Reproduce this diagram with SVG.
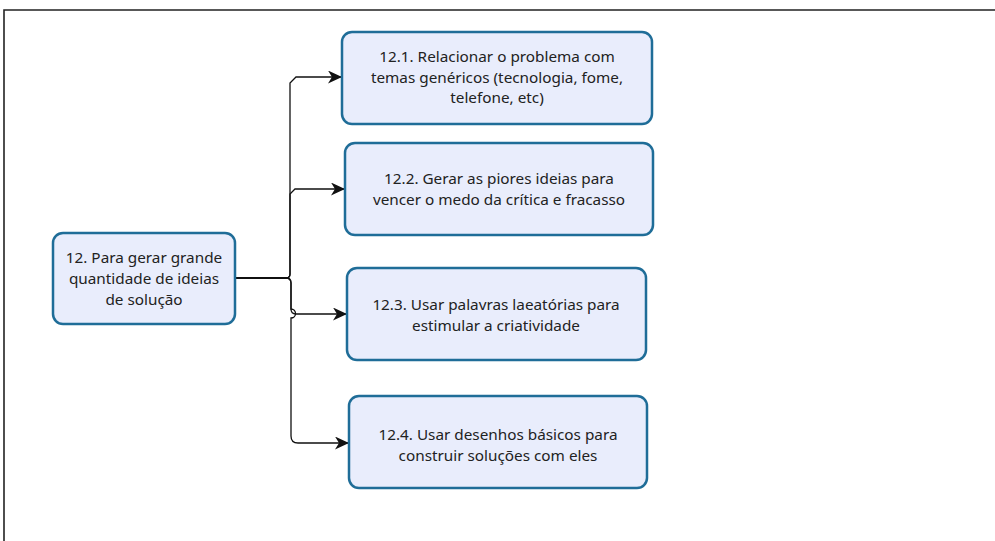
<svg xmlns="http://www.w3.org/2000/svg" width="995" height="541" viewBox="0 0 995 541">
  <style>
    .box { fill: #e9edfc; stroke: #1f6d98; stroke-width: 2.5; }
    .lbl { font-family: "Noto Sans", "Open Sans", "DejaVu Sans", sans-serif; font-size: 15.3px; fill: #222; text-anchor: middle; }
    .wire { fill: none; stroke: #111; stroke-width: 1.3; }
    .frame { fill: none; stroke: #222; stroke-width: 1.6; }
  </style>
  <defs>
    <marker id="arrow" markerUnits="userSpaceOnUse" markerWidth="15" markerHeight="13" refX="14" refY="6.5" orient="auto">
      <path d="M0,0 L14,6.5 L0,13 L4,6.5 Z" fill="#111"/>
    </marker>
  </defs>

  <rect width="995" height="541" fill="#fff"/>
  <path class="frame" d="M4,541 V10 H995"/>

  <!-- connectors from the root to each sub-item -->
  <g id="connectors">
    <path class="wire" marker-end="url(#arrow)" d="M235,278 H286 Q290,278 290,274 V83 L296,77 H342"/>
    <path class="wire" marker-end="url(#arrow)" d="M235,278 H286 Q290,278 290,274 V194 L295,189 H345"/>
    <path class="wire" marker-end="url(#arrow)" d="M235,278 H286 Q291,278 291,283 V309 Q291,314 296,314 H347"/>
    <path class="wire" marker-end="url(#arrow)" d="M235,278 H286 Q291,278 291,283 V309 A4.5,4.5 0 0 1 291,318 V436 Q291,443 298,443 H349"/>
  </g>

  <g id="root">
    <rect class="box" x="53" y="233" width="182" height="91" rx="10"/>
    <text class="lbl" x="144" y="263">12. Para gerar grande</text>
    <text class="lbl" x="144" y="284">quantidade de ideias</text>
    <text class="lbl" x="144" y="305">de solução</text>
  </g>

  <g id="item-12-1">
    <rect class="box" x="342" y="32" width="310" height="92" rx="10"/>
    <text class="lbl" x="497" y="62">12.1. Relacionar o problema com</text>
    <text class="lbl" x="497" y="83">temas genéricos (tecnologia, fome,</text>
    <text class="lbl" x="497" y="103">telefone, etc)</text>
  </g>

  <g id="item-12-2">
    <rect class="box" x="345" y="143" width="308" height="92" rx="10"/>
    <text class="lbl" x="499" y="184">12.2. Gerar as piores ideias para</text>
    <text class="lbl" x="499" y="205">vencer o medo da crítica e fracasso</text>
  </g>

  <g id="item-12-3">
    <rect class="box" x="347" y="268" width="299" height="92" rx="10"/>
    <text class="lbl" x="496" y="310">12.3. Usar palavras laeatórias para</text>
    <text class="lbl" x="496" y="331">estimular a criatividade</text>
  </g>

  <g id="item-12-4">
    <rect class="box" x="349" y="396" width="298" height="92" rx="10"/>
    <text class="lbl" x="498" y="440">12.4. Usar desenhos básicos para</text>
    <text class="lbl" x="498" y="461">construir soluções com eles</text>
  </g>
</svg>
